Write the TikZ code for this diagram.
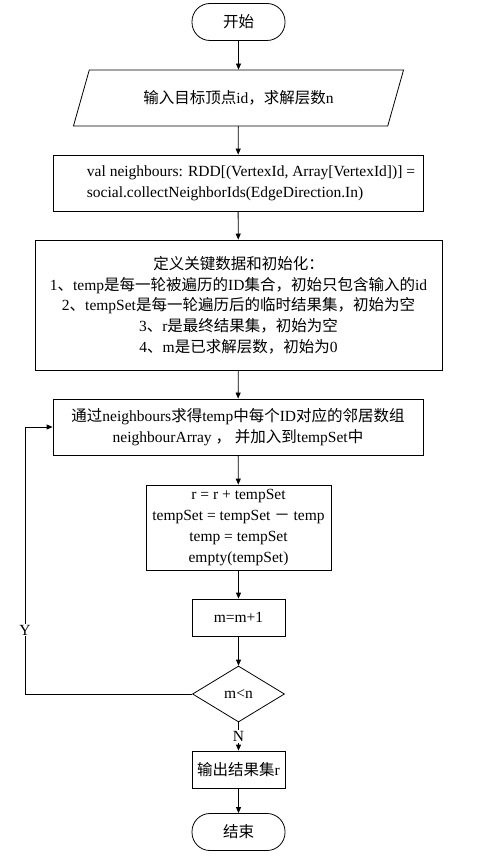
\documentclass[tikz,border=0pt]{standalone}
\usepackage{fontspec}
\setmainfont{Liberation Serif}
\newfontfamily\cjk{Noto Sans CJK SC}
\newcommand{\zh}[1]{{\cjk #1}}
\usetikzlibrary{shapes.geometric,arrows.meta}

\tikzset{
	terminal/.style={draw, rounded corners=18pt, minimum width=93pt, minimum height=37pt, inner sep=0pt},
	iobox/.style={draw, trapezium, trapezium left angle=64, trapezium right angle=116, trapezium stretches=true, minimum width=331pt, minimum height=56pt},
	procbox/.style={draw, rectangle, inner sep=0pt, align=center},
	decision/.style={draw, diamond, aspect=1.64, minimum width=92pt, minimum height=56pt, inner sep=0pt},
	flow/.style={-{Triangle[length=6pt, width=5pt]}},
	tag/.style={fill=white, inner sep=1pt}
}

\begin{document}
\begin{tikzpicture}[x=1pt, y=-1pt, line width=0.8pt, font=\fontsize{15.5}{20.7}\selectfont]
		\useasboundingbox (0,0) rectangle (491,856);
		
		\node[terminal] (start) at (238.5,22) {\zh{开始}};
		\node[iobox] (input) at (238.5,98) {\zh{输入目标顶点}id\zh{，求解层数}n};
		\node[procbox, minimum width=370pt, minimum height=56pt, align=left] (nbr) at (238,183) {
			\hspace*{26pt}val neighbours: RDD[(VertexId, Array[VertexId])] =\\
			\hspace*{26pt}social.collectNeighborIds(EdgeDirection.In)};
		\node[procbox, minimum width=407pt, minimum height=130pt] (init) at (238.5,305) {
			\zh{定义关键数据和初始化：}\\
			1\zh{、}temp\zh{是每一轮被遍历的}ID\zh{集合，初始只包含输入的}id\\
			2\zh{、}tempSet\zh{是每一轮遍历后的临时结果集，初始为空}\\
			3\zh{、}r\zh{是最终结果集，初始为空}\\
			4\zh{、}m\zh{是已求解层数，初始为}0};
		\node[procbox, minimum width=370pt, minimum height=56pt] (collect) at (238,427) {
			\zh{通过}neighbours\zh{求得}temp\zh{中每个}ID\zh{对应的邻居数组}\\
			neighbourArray \zh{，} \zh{并加入到}tempSet\zh{中}};
		\node[procbox, minimum width=185pt, minimum height=85pt] (update) at (238.5,527.5) {
			r = r + tempSet\\
			tempSet = tempSet \zh{－} temp\\
			temp = tempSet\\
			empty(tempSet)};
		\node[procbox, minimum width=93pt, minimum height=37pt] (incr) at (238.5,617.5) {m=m+1};
		\node[decision] (check) at (238.5,694) {m<n};
		\node[procbox, minimum width=93pt, minimum height=37pt] (output) at (238.5,769.5) {\zh{输出结果集}r};
		\node[terminal] (stop) at (238.5,832) {\zh{结束}};
		\coordinate (loopdown) at (25,694);
		\coordinate (loopup) at (25,427);
		
		\draw[flow] (start) -- (input);
		\draw[flow] (input) -- (nbr);
		\draw[flow] (nbr) -- (init);
		\draw[flow] (init) -- (collect);
		\draw[flow] (collect) -- (update);
		\draw[flow] (update) -- (incr);
		\draw[flow] (incr) -- (check);
		\draw[flow] (check) -- node[tag] {N} (output);
		\draw[flow] (output) -- (stop);
		\draw[flow] (check.west) -- (loopdown) -- node[tag, pos=0.24] {Y} (loopup) -- (collect.west);
		
\end{tikzpicture}
\end{document}
